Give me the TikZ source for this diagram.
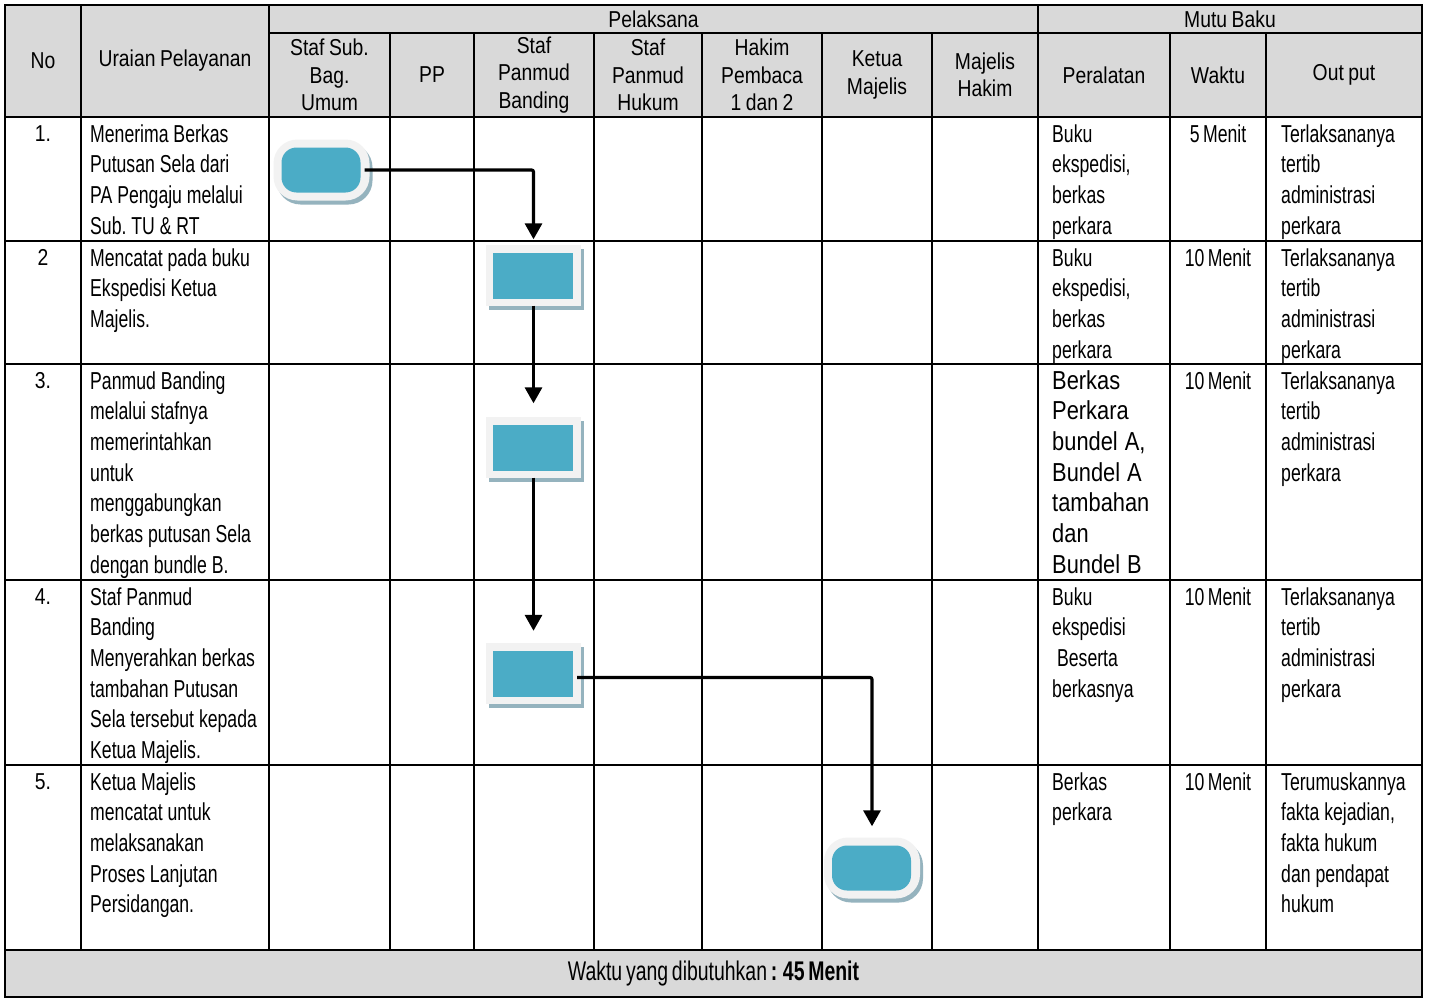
\documentclass[tikz,border=0pt]{standalone}
\usepackage{fontspec}
\usetikzlibrary{arrows.meta,shadows,calc}
\newfontfamily\hdr[FakeStretch=0.84,WordSpace=0.85]{Liberation Sans}
\newfontfamily\bdy[FakeStretch=0.72,WordSpace=0.7]{Liberation Sans}
\definecolor{hdrC}{HTML}{D9D9D9}
\definecolor{blueC}{HTML}{4BACC6}
\definecolor{rimC}{HTML}{F2F2F2}
\definecolor{shadC}{HTML}{95B3BE}
\tikzset{
  gridline/.style={line width=2pt, draw=black},
  hd/.style={font=\hdr\fontsize{23}{27.5}\selectfont, align=center, inner sep=0pt},
  num/.style={font=\hdr\fontsize{23}{27.5}\selectfont, anchor=base, inner sep=0pt},
  bd/.style={font=\bdy\fontsize{24.5}{30.7}\selectfont\frenchspacing, align=left, anchor=base west, inner sep=0pt, text width=190pt,
    execute at begin node={\spaceskip=0.2em\relax\xspaceskip=0.2em\relax}},
  bdbig/.style={font=\hdr\fontsize{26}{30.7}\selectfont, align=left, anchor=base west, inner sep=0pt, text width=120pt,
    execute at begin node={\spaceskip=0.27em\relax}},
  wk/.style={font=\bdy\fontsize{24.5}{30.7}\selectfont, anchor=base, inner sep=0pt},
  shapebase/.style={fill=rimC, draw=none, inner sep=0pt,
    drop shadow={fill=shadC, opacity=1, shadow xshift=3pt, shadow yshift=-4pt}},
  term/.style={shapebase, rounded corners=24pt, minimum width=96pt, minimum height=61pt,
    path picture={\fill[blueC, rounded corners=15pt]
      ([shift={(8pt,8pt)}]path picture bounding box.south west) rectangle
      ([shift={(-9pt,-8pt)}]path picture bounding box.north east);}},
  proc/.style={shapebase, minimum width=95pt, minimum height=61pt,
    path picture={\fill[blueC]
      ([shift={(7pt,7pt)}]path picture bounding box.south west) rectangle
      ([shift={(-8pt,-8pt)}]path picture bounding box.north east);}},
  flow/.style={line width=3.2pt, draw=black, -{Triangle[width=17pt,length=16pt]}, rounded corners=2pt}
}
\begin{document}
\begin{tikzpicture}[x=1pt,y=-1pt]
\useasboundingbox (0,0) rectangle (1432,998);
\fill[white] (0,0) rectangle (1432,998);
% header and footer fills
\fill[hdrC] (5,5) rectangle (1422,117);
\fill[hdrC] (5,950) rectangle (1422,997);
% grid
\draw[gridline] (5,5) rectangle (1422,997);
\draw[gridline] (269,33) -- (1422,33);
\foreach \y in {117,241,364,580,765,950} \draw[gridline] (5,\y) -- (1422,\y);
\foreach \x in {81,269,1038} \draw[gridline] (\x,5) -- (\x,950);
\foreach \x in {390,474,594,702,822,932,1170,1266} \draw[gridline] (\x,33) -- (\x,950);
% header texts
\node[hd] (hNo) at (43,61) {No};
\node[hd] (hUr) at (175,61) {Uraian Pelayanan};
\node[hd] (hPel) at (653.5,19) {Pelaksana};
\node[hd] (hMutu) at (1230,19) {Mutu Baku};
\node[hd] (hStafSub) at (329.5,75) {Staf Sub.\\Bag.\\Umum};
\node[hd] (hPP) at (432,75) {PP};
\node[hd] (hSPB) at (534,75) {Staf\\Panmud\\Banding};
\node[hd] (hSPH) at (648,75) {Staf\\Panmud\\Hukum};
\node[hd] (hHak) at (762,75) {Hakim\\Pembaca\\1 dan 2};
\node[hd] (hKM) at (877,75) {Ketua\\Majelis};
\node[hd] (hMH) at (985,75) {Majelis\\Hakim};
\node[hd] (hPer) at (1104,75) {Peralatan};
\node[hd] (hWak) at (1218,75) {Waktu};
\node[hd] (hOut) at (1344,75) {Out put};
% row 1
\node[num] (n1) at (43,141) {1.};
\node[bd] (u1) at (90,142) {Menerima Berkas\\Putusan Sela dari\\PA Pengaju melalui\\Sub. TU \& RT};
\node[bd] (p1) at (1052,142) {Buku\\ekspedisi,\\berkas\\perkara};
\node[wk] (w1) at (1218,142) {5 Menit};
\node[bd] (o1) at (1281,142) {Terlaksananya\\tertib\\administrasi\\perkara};
% row 2
\node[num] (n2) at (43,265) {2};
\node[bd] (u2) at (90,266) {Mencatat pada buku\\Ekspedisi Ketua\\Majelis.};
\node[bd] (p2t) at (1052,266) {Buku\\ekspedisi,\\berkas\\perkara};
\node[wk] (w2) at (1218,266) {10 Menit};
\node[bd] (o2) at (1281,266) {Terlaksananya\\tertib\\administrasi\\perkara};
% row 3
\node[num] (n3) at (43,388) {3.};
\node[bd] (u3) at (90,389) {Panmud Banding\\melalui stafnya\\memerintahkan\\untuk\\menggabungkan\\berkas putusan Sela\\dengan bundle B.};
\node[bdbig] (p3t) at (1052,389) {Berkas\\Perkara\\bundel A,\\Bundel A\\tambahan\\dan\\Bundel B};
\node[wk] (w3) at (1218,389) {10 Menit};
\node[bd] (o3) at (1281,389) {Terlaksananya\\tertib\\administrasi\\perkara};
% row 4
\node[num] (n4) at (43,604) {4.};
\node[bd] (u4) at (90,605) {Staf Panmud\\Banding\\Menyerahkan berkas\\tambahan Putusan\\Sela tersebut kepada\\Ketua Majelis.};
\node[bd] (p4t) at (1052,605) {Buku\\ekspedisi\\\hspace*{0.2em}Beserta\\berkasnya};
\node[wk] (w4) at (1218,605) {10 Menit};
\node[bd] (o4) at (1281,605) {Terlaksananya\\tertib\\administrasi\\perkara};
% row 5
\node[num] (n5) at (43,789) {5.};
\node[bd] (u5) at (90,790) {Ketua Majelis\\mencatat untuk\\melaksanakan\\Proses Lanjutan\\Persidangan.};
\node[bd] (p5t) at (1052,790) {Berkas\\perkara};
\node[wk] (w5) at (1218,790) {10 Menit};
\node[bd] (o5) at (1281,790) {Terumuskannya\\fakta kejadian,\\fakta hukum\\dan pendapat\\hukum};
% footer
\node[font=\bdy\fontsize{27}{30.7}\selectfont, inner sep=0pt] (foot) at (713.5,973.5) {Waktu yang dibutuhkan \textbf{: 45 Menit}};
% flow shapes
\node[term] (t1) at (321.5,170) {};
\node[proc] (s2) at (533.5,275) {};
\node[proc] (s3) at (533.5,447) {};
\node[proc] (s4) at (533.5,673.5) {};
\node[term] (t5) at (872,868) {};
% connectors
\draw[flow] ([xshift=-5pt]t1.east) -| ([yshift=5pt]s2.north);
\draw[flow] (s2.south) -- ([yshift=13pt]s3.north);
\draw[flow] (s3.south) -- ([yshift=12pt]s4.north);
\draw[flow] ([xshift=-4pt,yshift=-4pt]s4.east) -| ([yshift=11pt]t5.north);
\end{tikzpicture}
\end{document}
